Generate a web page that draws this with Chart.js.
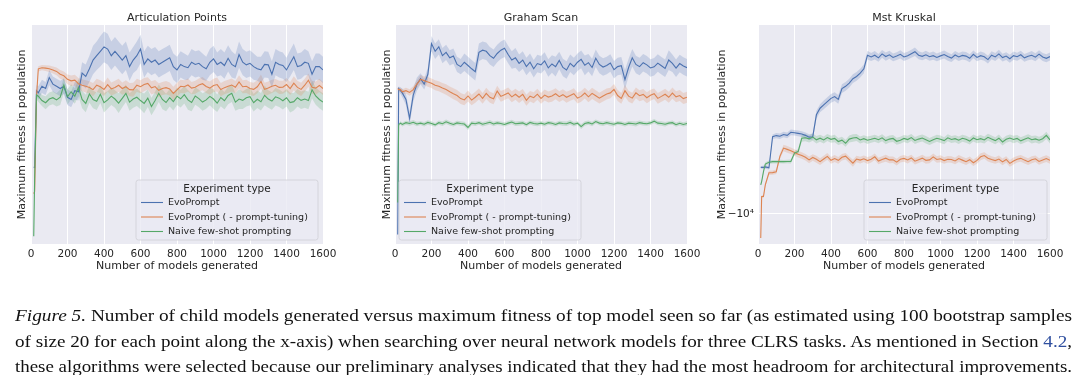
<!DOCTYPE html>
<html><head><meta charset="utf-8">
<script src="https://cdn.jsdelivr.net/npm/chart.js@4.4.0/dist/chart.umd.min.js"></script>
<style>
html,body{margin:0;padding:0;background:#fff;}
body{width:1080px;height:375px;position:relative;overflow:hidden;}
.pane{position:absolute;top:0;height:280px;}
.pane canvas{display:block;}
#caption{position:absolute;left:15px;top:0;width:1057px;height:375px;font-family:"Liberation Serif","Times New Roman",serif;font-size:16px;line-height:20px;color:#111;}
.ln{position:absolute;left:0;white-space:nowrap;transform-origin:0 0;}
.ln i{font-style:italic;}
.ln .ref{color:#2f4f9f;}
</style></head><body>
<div class="pane" style="left:0;width:360px"><canvas id="c1" width="360" height="280"></canvas></div>
<div class="pane" style="left:360px;width:360px"><canvas id="c2" width="360" height="280"></canvas></div>
<div class="pane" style="left:712px;width:368px"><canvas id="c3" width="368" height="280"></canvas></div>
<div id="caption">
<div class="ln" style="top:306px"><i>Figure 5.</i> Number of child models generated versus maximum fitness of top model seen so far (as estimated using 100 bootstrap samples</div>
<div class="ln" style="top:332px">of size 20 for each point along the x-axis) when searching over neural network models for three CLRS tasks. As mentioned in Section <span class="ref">4.2</span>,</div>
<div class="ln" style="top:357px">these algorithms were selected because our preliminary analyses indicated that they had the most headroom for architectural improvements.</div>
</div>
<script>
// ---------------- data ----------------
const X = [15,20,30,40,60,80,100,120,140,160,
180,200,220,240,260,280,300,320,340,360,
380,400,420,440,460,480,500,520,540,560,
580,600,620,640,660,680,700,720,740,760,
780,800,820,840,860,880,900,920,940,960,
980,1000,1020,1040,1060,1080,1100,1120,1140,1160,
1180,1200,1220,1240,1260,1280,1300,1320,1340,1360,
1380,1400,1420,1440,1460,1480,1500,1520,1540,1560,
1580,1600];

const TITLES = ['Articulation Points','Graham Scan','Mst Kruskal'];
const SERIES_NAMES = ['EvoPrompt','EvoPrompt ( - prompt-tuning)','Naive few-shot prompting'];
const LEGEND_TITLE = 'Experiment type';
const X_LABEL = 'Number of models generated';
const Y_LABEL = 'Maximum fitness in population';
const X_TICKS = [0,200,400,600,800,1000,1200,1400,1600];
const X_TICK_LABELS = ['0','200','400','600','800','1000','1200','1400','1600'];
const MK_Y_TICKS = [13.7];
const MK_Y_TICK_LABELS = ['\u221210\u2074'];

// Articulation Points
const AP_EVO = [35,35,70,69,72,71,76,73,72,71,
72,67,66,70,69.5,78,76.5,80,84,86,
88,90,89,86,88,86,84,86,81,84,
86,89,82,84.5,83,84,82,83,84,85,
81,79.5,82,81,80.5,83,82,82.5,81,80,
83,84.5,82,83,81.5,84.8,82,81,86.5,83,
81.8,82.5,81,80,79.5,82,81.8,77.5,83,82,
81.5,79.5,82.5,85.5,81,81.5,83,82.5,77.5,81,
81,79.5];
const AP_EVO_CI = [0.5,0.5,2.5,3,3,3,3.5,3.5,3.5,3.5,
3.5,3.5,3.5,4,4,5,5.5,6,6.5,6.5,
7,7,7,6.5,6.5,6.5,6.5,6.5,6.5,6,
6.5,6.5,6,6,6,6,6,6,6,6,
6,6,6,6,5.5,6,6,6,6,5.5,
6,6,5.5,6,6,6,6,5.5,6,6,
6,6,6,5.5,6,6,6,6,6,6,
6,5.5,6,6,6,6,6,5.5,6,6,
6,6];
const AP_NOPT = [23,24,67,80,80.5,80.3,80,79.5,78.8,77.5,
76.8,75.2,74.5,74.8,73.2,72.5,72,71.5,70.5,72.5,
71.8,70.6,72.8,70.8,71.5,72.5,71,71.8,70.5,70.4,
72.5,71.8,72.8,73.3,71.3,71.9,70.2,71,71.4,70.8,
68.8,70.4,72,71.8,72.6,71.2,71.6,72.6,73.2,71.9,
71.2,72.4,72.8,70.5,71.4,72,72.6,71.6,74,71.8,
72,71,70.6,71.8,74.2,70.6,71.2,72,72.5,71.5,
71.6,72.8,71,73.4,71.5,70.6,72.5,74.8,71.6,71.2,
72.4,71];
const AP_NOPT_CI = [0.5,0.5,1.5,1.2,1.2,1.3,1.5,1.6,1.8,2,
2,2.2,2.4,2.5,2.6,2.7,2.8,2.8,3,3,
3,3,3.2,3,3,3,2.8,3,3,3.2,
3,3,3,2.8,3,3,3.2,3,3,3,
3,3.2,3,3,3,2.8,3,3,3,3,
3,3,3.2,3,3,3,3,2.8,3,3,
3,3,3,3,3.2,3,3,3,2.8,3,
3,3,3,3.2,3,3,3,3,3,3,
3,3];
const AP_NAIVE = [3.5,30,68,67.5,65.5,64.5,66.2,66.8,65.8,67,
72.5,67.2,69.5,67.5,71.5,66,64.2,68.5,66,65.2,
68.4,64.5,65.8,67.5,66.2,64.3,66.5,68.8,64.8,66.2,
67,65.5,64.2,66.6,62.8,65.5,68.8,66,64.6,66.8,
65,67.5,66.3,68.2,65.8,64.6,67.6,66.4,64.8,65.8,
67.4,66.2,64.3,66.9,65.4,67.8,68.8,64.8,66.2,65.6,
66.8,67.3,64.5,66.1,65,67.9,66.2,65.3,67.2,66.6,
65.4,66.8,64.6,65,66.8,65.6,66.2,65.5,70.4,67.6,
66,64.8];
const AP_NAIVE_CI = [0.5,0.5,2,2.5,2.5,3,3,3,3,3.5,
3.5,3.5,3.5,3.5,4,4,4,4,4,4,
4,4.5,4,4,4,4.5,4,4,4,4,
4,4,4.5,4,4,4,4,4.5,4,4,
4,4,4,4,4.5,4,4,4,4,4,
4,4.5,4,4,4,4,4,4,4.5,4,
4,4,4,4,4,4.5,4,4,4,4,
4,4,4.5,4,4,4,4,4,4,4,
4,4];

// Graham Scan
const GS_EVO = [4.3,71,70,69,66,57.4,68,73,75.5,73,
77.5,91.5,88,90,86,87.5,85,85.8,82,81,
83,81.5,80,78.7,87.5,88.5,88,86,84.8,87,
88.5,89.4,86.5,84,85,82.5,84,81,83,80,
82.4,81.8,83.6,80.4,82.2,81,83.8,80.6,79.5,82.5,
81,83,84.3,81.6,82.8,80.6,84.8,82,80.8,81.5,
82.6,79.6,81,81.4,75,80.6,85,82,81,82.8,
81.8,80.4,80.9,82.6,81.4,80.2,84,82.5,80.3,82.4,
81.3,80.5];
const GS_EVO_CI = [0.5,1,1.5,2,2.5,3,3,3,2.5,2.5,
3,3.5,3.5,3.5,3.5,3.5,3.5,3.5,3.5,3.5,
4,4,4,4,4,4,4,4,4,4,
4,4,4,4,4.5,4,4,4,4,4,
4,4,4,4,4,4.5,4,4,4,4,
4,4,4,4.5,4,4,4,4,4,4,
4,4,4,4,4.5,4,4,4,4,4,
4,4,4,4,4,4,4.5,4,4,4,
4,4];
const GS_NOPT = [71,70.5,70.5,69.5,70,69.2,70.5,73,75.2,74.6,
74,73.4,72.5,72,71.2,70.5,69.5,68.6,67.8,66.4,
65.8,67.6,65.7,67,68.5,66.5,68.8,67,66.3,69.8,
67.4,68.2,69,67.2,68.4,67,68.3,65.6,67.5,66.8,
68.4,66.5,68,67.1,67.6,68.6,67.3,68.2,67,67.8,
68.6,66.6,67.4,68.9,67.2,68.8,67.7,66.6,67.6,68.5,
69,70.6,67.8,66.5,70,67.5,66.6,69,67.7,68.3,
66.8,67.9,68.6,66.5,67.4,68.4,67,68.9,67.2,67.8,
66.4,67];
const GS_NOPT_CI = [0.5,0.8,1,1.2,1.3,1.5,1.5,1.8,2,2,
2.2,2.2,2.3,2.3,2.3,2.4,2.4,2.5,2.5,2.5,
2.5,2.5,2.4,2.5,2.5,2.5,2.6,2.5,2.5,2.5,
2.5,2.4,2.5,2.5,2.5,2.6,2.5,2.5,2.4,2.5,
2.5,2.5,2.5,2.5,2.6,2.5,2.5,2.5,2.5,2.4,
2.5,2.5,2.5,2.5,2.5,2.6,2.5,2.5,2.5,2.5,
2.4,2.5,2.5,2.5,2.6,2.5,2.5,2.5,2.5,2.5,
2.5,2.5,2.4,2.5,2.5,2.5,2.5,2.6,2.5,2.5,
2.5,2.5];
const GS_NAIVE = [19,54.5,55.2,54.6,55.4,55,55.6,54.8,55.2,54.7,
55.5,55,54.4,55.4,54.9,55.8,55.1,54.6,55.3,55,
54.8,53.2,55.2,54.9,55.4,54.7,55.1,55.6,54.8,55.3,
55,54.6,55.2,55.7,54.9,55.1,55.3,54.5,55.5,55,
54.8,55.2,54.7,55.4,55.1,54.6,55.3,55,54.9,55.5,
54.7,55.2,53.6,55,55.4,54.8,55.9,55.2,54.9,55.4,
55,54.7,55.3,55.1,54.6,55.2,55,54.8,55.4,55.1,
54.9,55.3,56.1,55.2,55,54.7,55.2,55.4,54.5,55.1,
54.6,55];
const GS_NAIVE_CI = [0.3,0.6,0.8,0.9,0.9,1,1,1,0.9,1,
1,1,0.9,1,1,1,1,0.9,1,1,
1,1.1,1,1,0.9,1,1,1,1,1,
0.9,1,1,1,1,1.1,1,1,0.9,1,
1,1,1,0.9,1,1,1,1,1,1.1,
1,0.9,1.1,1,1,1,0.9,1,1,1,
1,1,0.9,1,1,1,1,1.1,1,1,
0.9,1,1,1,1,1,0.9,1,1,1,
1,1];

// Mst Kruskal
const MK_EVO = [35,35,35,35.2,34.8,49,49.5,49.2,50,49.6,
51,50.8,50.5,50.2,49.6,48.8,49,59,62,63.5,
65,66.5,67.3,66,71,72,73.5,75.5,76.5,78,
80,86.2,85.4,86.2,85,86.8,85.6,86.4,85.2,85.8,
86.6,85.4,86,86.9,87.8,86.2,85.7,86.4,85.5,86,
85.2,85.9,86.5,85.6,84.9,86.3,85.4,86.1,85.8,84.8,
86.6,85.2,86,85.5,84.2,86.2,85.4,86.8,85.1,85.8,
84.6,86,85.5,86.4,85,85.7,86.2,85.3,86.7,85.4,
84.8,85.6];
const MK_EVO_CI = [0.5,0.6,0.8,0.8,0.8,1,1.2,1.2,1.2,1.3,
1.3,1.3,1.3,1.3,1.3,1.3,1.4,1.8,1.8,2,
2,2,2,2,2,2,2,2,2,2,
2,2,1.8,1.9,1.8,1.8,1.9,1.8,1.8,1.8,
1.9,1.8,1.8,1.8,1.9,1.8,1.8,1.8,1.8,1.9,
1.8,1.8,1.8,1.9,1.8,1.8,1.8,1.8,1.9,1.8,
1.8,1.8,1.9,1.8,1.8,1.8,1.8,1.9,1.8,1.8,
1.8,1.9,1.8,1.8,1.8,1.8,1.9,1.8,1.8,1.8,
1.8,1.8];
const MK_NOPT = [2.7,21.7,21.7,27,32.5,32.6,33,40,43.8,43.2,
42.6,41.8,41,40.4,39.6,38.4,39.5,38.7,37.6,38.8,
40,38.2,39,38.2,39.6,40.1,38.5,36.9,38.8,38.3,
38.9,38.1,38.7,39.8,37.9,38.6,39.2,38.4,38.5,37.4,
38.7,39.1,38.4,39.3,37.8,38.5,39.2,38.2,38.4,39.8,
38.6,38.9,38.1,38.7,38.6,37.9,39,38.3,37.6,38.5,
37.1,38.2,39.8,40.4,39.2,38.6,38.1,38.8,37.5,38.6,
36.8,37.9,38.7,39.1,38.3,37.6,38.5,38.9,37.7,38.4,
39,38.2];
const MK_NOPT_CI = [0.4,0.6,0.8,0.9,1,1,1,1.2,1.5,1.5,
1.5,1.5,1.5,1.5,1.5,1.5,1.5,1.6,1.5,1.5,
1.5,1.5,1.6,1.5,1.5,1.5,1.5,1.6,1.5,1.5,
1.5,1.6,1.5,1.5,1.5,1.5,1.6,1.5,1.5,1.5,
1.5,1.5,1.6,1.5,1.5,1.5,1.5,1.6,1.5,1.5,
1.5,1.6,1.5,1.5,1.5,1.5,1.6,1.5,1.5,1.5,
1.5,1.5,1.6,1.5,1.5,1.5,1.5,1.6,1.5,1.5,
1.5,1.6,1.5,1.5,1.5,1.5,1.6,1.5,1.5,1.5,
1.5,1.5];
const MK_NAIVE = [27,28.5,33,36.5,37.3,37.6,37.6,37.7,37.6,37.7,
37.7,41.5,42.2,48.3,48.5,48,48.8,47.6,48.3,47.5,
48.6,47.8,48.2,46.8,47.4,46,47.9,48.4,48.6,47.5,
48.1,47.4,47.8,48.3,47.6,48.5,47.2,47.9,48.2,46.9,
47.4,48.2,47.7,48.6,47.3,47.9,48.4,47.6,46.8,47.6,
48.3,47.8,47.2,48.5,47.7,48.1,47.4,48.3,47.8,47,
48.4,47.6,48.1,47.5,48.7,47.9,47.2,48.3,46.6,47.8,
48.4,47.7,48.2,47.1,47.8,48.5,47.6,48,47.4,48.1,
49.6,47.5];
const MK_NAIVE_CI = [0.4,0.5,0.6,0.8,0.8,0.8,0.8,0.8,0.8,0.8,
0.9,1,1.2,1.6,1.6,1.6,1.6,1.7,1.6,1.6,
1.6,1.6,1.7,1.6,1.6,1.6,1.6,1.7,1.6,1.6,
1.6,1.7,1.6,1.6,1.6,1.6,1.7,1.6,1.6,1.6,
1.6,1.6,1.7,1.6,1.6,1.6,1.6,1.7,1.6,1.6,
1.6,1.7,1.6,1.6,1.6,1.6,1.7,1.6,1.6,1.6,
1.6,1.6,1.7,1.6,1.6,1.6,1.6,1.7,1.6,1.6,
1.6,1.7,1.6,1.6,1.6,1.6,1.7,1.6,1.6,1.6,
1.6,1.6];

// ---------------- style ----------------
const COLORS = ['#4c72b0','#dd8452','#55a868'];
const BANDS = ['rgba(76,114,176,0.22)','rgba(221,132,82,0.22)','rgba(85,168,104,0.22)'];
const TEXT = '#262626';
const FACE = '#eaeaf2';
Chart.defaults.font.family = '"DejaVu Sans", sans-serif';
Chart.defaults.color = TEXT;

const PANELS = [
  {id:'c1', title:TITLES[0], means:[AP_EVO,AP_NOPT,AP_NAIVE], cis:[AP_EVO_CI,AP_NOPT_CI,AP_NAIVE_CI],
   W:360, left:31, right:323, ytc:22, legend:{x:136,y:180,w:182,h:60}, yTicks:null},
  {id:'c2', title:TITLES[1], means:[GS_EVO,GS_NOPT,GS_NAIVE], cis:[GS_EVO_CI,GS_NOPT_CI,GS_NAIVE_CI],
   W:360, left:35, right:327, ytc:27, legend:{x:39,y:180,w:182,h:60}, yTicks:null},
  {id:'c3', title:TITLES[2], means:[MK_EVO,MK_NOPT,MK_NAIVE], cis:[MK_EVO_CI,MK_NOPT_CI,MK_NAIVE_CI],
   W:368, left:46, right:338, ytc:10, legend:{x:152,y:180,w:183,h:60}, yTicks:MK_Y_TICKS, yTickLabels:MK_Y_TICK_LABELS}
];
const TOP = 25, BOTTOM = 244, H = 280;

const bgPlugin = {
  id:'bg',
  beforeDraw(chart){
    const {ctx, chartArea:a} = chart;
    ctx.save(); ctx.fillStyle = FACE; ctx.fillRect(a.left, a.top, a.right-a.left, a.bottom-a.top); ctx.restore();
  }
};
const legendPlugin = {
  id:'boxLegend',
  afterDraw(chart, args, opts){
    const b = opts.box; if(!b) return;
    const ctx = chart.ctx;
    ctx.save();
    ctx.beginPath();
    const r = 2.5;
    ctx.moveTo(b.x+r,b.y); ctx.lineTo(b.x+b.w-r,b.y); ctx.quadraticCurveTo(b.x+b.w,b.y,b.x+b.w,b.y+r);
    ctx.lineTo(b.x+b.w,b.y+b.h-r); ctx.quadraticCurveTo(b.x+b.w,b.y+b.h,b.x+b.w-r,b.y+b.h);
    ctx.lineTo(b.x+r,b.y+b.h); ctx.quadraticCurveTo(b.x,b.y+b.h,b.x,b.y+b.h-r);
    ctx.lineTo(b.x,b.y+r); ctx.quadraticCurveTo(b.x,b.y,b.x+r,b.y); ctx.closePath();
    ctx.fillStyle = 'rgba(234,234,242,0.8)'; ctx.fill();
    ctx.strokeStyle = '#cfcfd6'; ctx.lineWidth = 0.8; ctx.stroke();
    ctx.fillStyle = TEXT; ctx.textBaseline = 'middle';
    ctx.font = '10.5px "DejaVu Sans"'; ctx.textAlign = 'center';
    ctx.fillText(LEGEND_TITLE, b.x + b.w/2, b.y + 9.5);
    ctx.font = '9.5px "DejaVu Sans"'; ctx.textAlign = 'left';
    SERIES_NAMES.forEach((n,i)=>{
      const y = b.y + 22.5 + i*14.5;
      ctx.strokeStyle = COLORS[i]; ctx.lineWidth = 1.1;
      ctx.beginPath(); ctx.moveTo(b.x+5, y); ctx.lineTo(b.x+27, y); ctx.stroke();
      ctx.fillText(n, b.x+32, y+0.5);
    });
    ctx.restore();
  }
};

PANELS.forEach(p=>{
  const datasets = [];
  p.means.forEach((m,i)=>{
    datasets.push({label:SERIES_NAMES[i], data:X.map((x,k)=>({x, y:m[k]})),
      borderColor:COLORS[i], borderWidth:1.1, pointRadius:0, fill:false, tension:0, order:3-i});
  });
  p.means.forEach((m,i)=>{
    const ci = p.cis[i];
    datasets.push({label:'lo'+i, data:X.map((x,k)=>({x, y:m[k]-ci[k]})),
      borderWidth:0, borderColor:'rgba(0,0,0,0)', pointRadius:0, fill:false, tension:0, order:10});
    datasets.push({label:'hi'+i, data:X.map((x,k)=>({x, y:m[k]+ci[k]})),
      borderWidth:0, borderColor:'rgba(0,0,0,0)', backgroundColor:BANDS[i], pointRadius:0, fill:'-1', tension:0, order:10});
  });
  const yOpts = {
    type:'linear', min:0, max:100,
    border:{display:false},
    grid:{display: !!p.yTicks, color:'#ffffff', lineWidth:1, drawTicks:false},
    ticks:{display: !!p.yTicks, padding:4, font:{size:10.5}, color:TEXT,
      callback:(v,idx)=> p.yTicks ? p.yTickLabels[idx] : ''},
    title:{display:true, text:Y_LABEL, font:{size:11}, color:TEXT, padding:{top:p.ytc-6.6, bottom:0}},
    afterFit(s){ s.width = p.left; }
  };
  if(p.yTicks){ yOpts.afterBuildTicks = (s)=>{ s.ticks = p.yTicks.map(v=>({value:v})); }; }
  new Chart(document.getElementById(p.id), {
    type:'line',
    data:{datasets},
    plugins:[bgPlugin, legendPlugin],
    options:{
      responsive:false, animation:false, devicePixelRatio:1,
      layout:{padding:{left:0, right:p.W-p.right, top:0, bottom:0}},
      plugins:{
        legend:{display:false}, tooltip:{enabled:false},
        title:{display:true, fullSize:false, text:p.title, font:{size:11, weight:'normal'}, color:TEXT, padding:{top:TOP-13.2, bottom:0}},
        boxLegend:{box:p.legend},
        filler:{propagate:false}
      },
      scales:{
        x:{type:'linear', min:X_TICKS[0], max:X_TICKS[X_TICKS.length-1],
          border:{display:false},
          grid:{color:'#ffffff', lineWidth:1, drawTicks:false},
          afterBuildTicks(s){ s.ticks = X_TICKS.map(v=>({value:v})); },
          ticks:{padding:3.5, font:{size:10.5}, color:TEXT, maxRotation:0, autoSkip:false,
            callback:(v,idx)=> X_TICK_LABELS[idx]},
          title:{display:true, text:X_LABEL, font:{size:11}, color:TEXT, padding:{top:0, bottom:14-6.6}},
          afterFit(s){ s.height = H - BOTTOM; }
        },
        y:yOpts
      }
    }
  });
});

// caption: stretch each line to the full text width
function fitCaption(){
  document.querySelectorAll('#caption .ln').forEach(el=>{
    el.style.transform = 'none';
    const w = el.getBoundingClientRect().width;
    el.style.transform = 'scaleX(' + (1057 / w) + ')';
  });
}
fitCaption();
if(document.fonts && document.fonts.ready) document.fonts.ready.then(fitCaption);
</script>
</body></html>
